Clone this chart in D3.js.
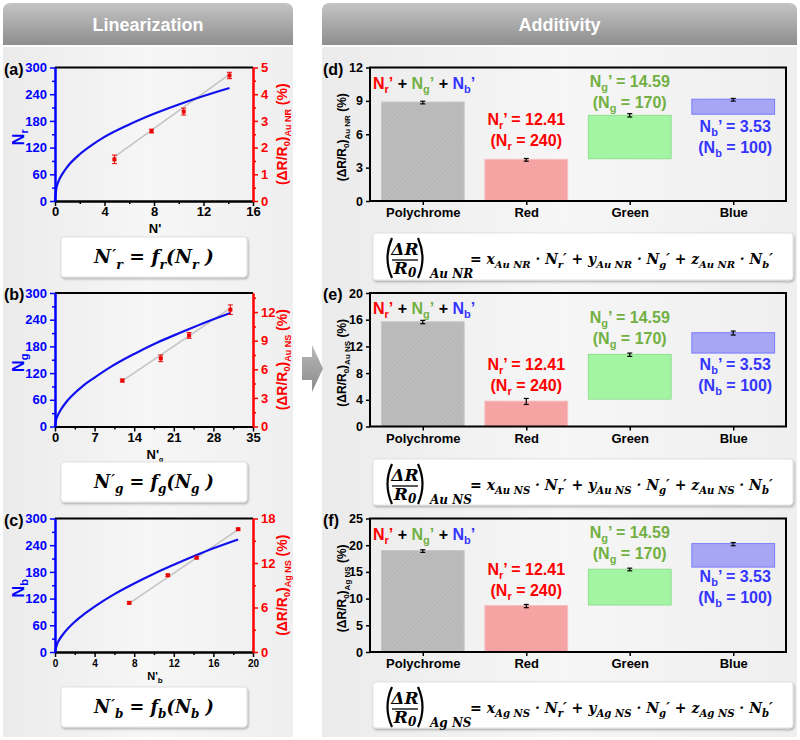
<!DOCTYPE html>
<html><head><meta charset="utf-8">
<script src="https://cdn.jsdelivr.net/npm/d3@7"></script>
<style>body{margin:0;background:#fff}svg{display:block}text,tspan{white-space:pre}</style>
</head><body><svg id="c" width="800" height="740"></svg>
<script>
// ---------------- DATA ----------------
// (a) N_r vs N' curve
const curveA_x = [0,0.1,0.3,0.6,1,2,3,4,6,8,10,12,14.1];
const curveA_y = [0,27,45,61,77,105,126,144,172,196,217,236,254];
const ptsA_x = [4.8,7.8,10.4,14.1];
const ptsA_y = [1.56,2.62,3.35,4.70];
const ptsA_e = [0.16,0.07,0.13,0.12];
const fitA_x = [4.8,14.1];
const fitA_y = [1.65,4.74];
// (b)
const curveB_x = [0,0.2,0.5,1,2,3,5,7,10,14,18,22,26,31];
const curveB_y = [0,15,25,37,55,69,92,110,135,163,188,210,231,255];
const ptsB_x = [11.9,18.7,23.7,31.0];
const ptsB_y = [4.82,7.15,9.55,12.25];
const ptsB_e = [0.15,0.35,0.3,0.5];
const fitB_x = [11.9,31.0];
const fitB_y = [4.78,12.42];
// (c)
const curveC_x = [0,0.2,0.5,1,2,3,4,6,8,10,12,14,16,18.5];
const curveC_y = [0,17,30,45,68,86,102,130,154,176,196,215,233,253];
const ptsC_x = [7.5,11.4,14.3,18.5];
const ptsC_y = [6.63,10.34,12.72,16.55];
const ptsC_e = [0.15,0.15,0.15,0.15];
const fitC_x = [7.5,18.5];
const fitC_y = [6.55,16.5];
// left tick values
const nTicks = [0,60,120,180,240,300];
const xTicksA = [0,4,8,12,16], rTicksA = [0,1,2,3,4,5];
const xTicksB = [0,7,14,21,28,35], rTicksB = [0,3,6,9,12];
const xTicksC = [0,4,8,12,16,20], rTicksC = [0,6,12,18];

// right panels
const categories = ["Polychrome","Red","Green","Blue"];
const barBaseD = [0,0,3.8,7.8],  barTopD = [8.9,3.75,7.7,9.15];
const errMidD  = [8.85,3.7,7.7,9.1], errD = [0.12,0.12,0.15,0.12];
const barBaseE = [0,0,4.1,11.0], barTopE = [15.7,3.8,10.8,14.05];
const errMidE  = [15.65,3.75,10.75,14.0], errE = [0.25,0.45,0.25,0.3];
const barBaseF = [0,0,8.8,15.9], barTopF = [19.0,8.7,15.5,20.3];
const errMidF  = [18.9,8.6,15.45,20.2], errF = [0.25,0.3,0.25,0.3];
const yTicksD = [0,3,6,9,12], yTicksE = [0,4,8,12,16,20], yTicksF = [0,5,10,15,20,25];
const nPrimeR = "12.41", nR = "240", nPrimeG = "14.59", nG = "170", nPrimeB = "3.53", nB = "100";

// ---------------- HELPERS ----------------
const SANS = '"Liberation Sans", Arial, sans-serif';
const SERIF = '"DejaVu Serif", "Liberation Serif", serif';
const svg = d3.select('#c');
const defs = svg.append('defs');

// rich text: one <text> with positioned tspans
function rich(parent, x, y, parts, o) {
  const g = parent.append('g');
  const t = g.append('text').attr('font-family', o.family || SANS).attr('font-size', o.size)
    .attr('font-weight', o.weight || 'bold').attr('font-style', o.style || 'normal').attr('fill', o.fill || '#000');
  let cx = 0;
  for (const p of parts) {
    const ts = t.append('tspan').attr('x', cx).attr('y', p.dy || 0).text(p.t);
    if (p.size) ts.attr('font-size', p.size);
    if (p.fill) ts.attr('fill', p.fill);
    const w = ts.node().getComputedTextLength();
    cx += w + (p.kern || 0);
  }
  const total = cx;
  let off = 0;
  if (o.anchor === 'middle') off = -total / 2;
  else if (o.anchor === 'end') off = -total;
  g.attr('transform', `translate(${x},${y})` + (o.rotate ? ` rotate(${o.rotate})` : '') + ` translate(${off},0)`);
  return { g, total };
}

// gradients / patterns / filters
const hg = defs.append('linearGradient').attr('id','hdr').attr('x1',0).attr('y1',0).attr('x2',0).attr('y2',1);
hg.append('stop').attr('offset','0%').attr('stop-color','#c4c4c4');
hg.append('stop').attr('offset','100%').attr('stop-color','#8e8e8e');
const bg = defs.append('linearGradient').attr('id','body').attr('x1',0).attr('y1',0).attr('x2',1).attr('y2',0);
bg.append('stop').attr('offset','0%').attr('stop-color','#ebebeb');
bg.append('stop').attr('offset','50%').attr('stop-color','#f6f6f6');
bg.append('stop').attr('offset','100%').attr('stop-color','#efefef');
const ag = defs.append('linearGradient').attr('id','arr').attr('x1',0).attr('y1',0).attr('x2',0).attr('y2',1);
ag.append('stop').attr('offset','0%').attr('stop-color','#b8b8b8');
ag.append('stop').attr('offset','100%').attr('stop-color','#8c8c8c');
const pat = defs.append('pattern').attr('id','hatch').attr('patternUnits','userSpaceOnUse')
  .attr('width',3).attr('height',3).attr('patternTransform','rotate(45)');
pat.append('rect').attr('width',3).attr('height',3).attr('fill','#bdbdbd');
pat.append('line').attr('x1',0).attr('y1',0).attr('x2',0).attr('y2',3).attr('stroke','#adadad').attr('stroke-width',1);
const sh = defs.append('filter').attr('id','shadow').attr('x','-5%').attr('y','-20%').attr('width','110%').attr('height','150%');
sh.append('feDropShadow').attr('dx',1).attr('dy',1.5).attr('stdDeviation',1.2).attr('flood-color','#000').attr('flood-opacity',0.3);

// ---------------- BACKGROUND ----------------
function section(x, w, title) {
  svg.append('rect').attr('x',x).attr('y',47).attr('width',w).attr('height',690).attr('fill','url(#body)');
  svg.append('path').attr('d', `M${x},45 L${x},11 Q${x},3 ${x+8},3 L${x+w-8},3 Q${x+w},3 ${x+w},11 L${x+w},45 Z`)
    .attr('fill','url(#hdr)');
  svg.append('text').attr('x', x + w/2).attr('y', 31).attr('text-anchor','middle')
    .attr('font-family', SANS).attr('font-weight','bold').attr('font-size',18).attr('fill','#fff').text(title);
}
section(3, 290, 'Linearization');
section(322, 475, 'Additivity');
svg.append('polygon').attr('points','302,357 312,357 312,345 323,368.5 312,392 312,380 302,380').attr('fill','url(#arr)');

// ---------------- LEFT PANELS ----------------
const L0 = 55, L1 = 253, PH = 133.5;
const TOPS = [67.5, 293, 518.5];
const BLUE = '#0000ff', RED = '#ff0000';

function minorOf(ticks) {
  const m = [];
  for (let i = 0; i < ticks.length - 1; i++) m.push((ticks[i] + ticks[i+1]) / 2);
  return m;
}

function styleAxis(sel, color, fs, family) {
  sel.select('.domain').attr('stroke', color).attr('stroke-width', 2);
  sel.selectAll('.tick line').attr('stroke', color).attr('stroke-width', 1.5);
  sel.selectAll('.tick text').attr('fill', color).attr('font-size', fs)
    .attr('font-family', family || SANS).attr('font-weight','bold');
}

function leftPanel(p) {
  const top = p.top, bot = top + PH;
  const g = svg.append('g');
  const x = d3.scaleLinear().domain([p.xTicks[0], p.xTicks[p.xTicks.length-1]]).range([L0, L1]);
  const y = d3.scaleLinear().domain([0, 300]).range([bot, top]);
  const yr = d3.scaleLinear().domain(p.rDom).range([bot, top]);
  g.append('path').attr('d', d3.line().x((d,i)=>x(p.fitX[i])).y((d,i)=>yr(p.fitY[i]))(p.fitX))
    .attr('fill','none').attr('stroke','#c4c4c4').attr('stroke-width',1.6);
  g.append('path').attr('d', d3.line().curve(d3.curveMonotoneX).x((d,i)=>x(p.cx[i])).y((d,i)=>y(p.cy[i]))(p.cx))
    .attr('fill','none').attr('stroke', '#1010ee').attr('stroke-width',2.2);
  p.px.forEach((v,i) => {
    const cx = x(v), cy = yr(p.py[i]);
    const y1 = yr(p.py[i] + p.pe[i]), y2 = yr(p.py[i] - p.pe[i]);
    g.append('line').attr('x1',cx).attr('x2',cx).attr('y1',y1).attr('y2',y2).attr('stroke','#e00').attr('stroke-width',1);
    [y1,y2].forEach(yy => g.append('line').attr('x1',cx-2.5).attr('x2',cx+2.5).attr('y1',yy).attr('y2',yy).attr('stroke','#e00').attr('stroke-width',1));
    g.append('rect').attr('x',cx-2).attr('y',cy-2).attr('width',4).attr('height',4).attr('fill','#e00');
  });
  g.append('line').attr('x1',L0).attr('x2',L1).attr('y1',top).attr('y2',top).attr('stroke','#000').attr('stroke-width',2);
  const xfs = p.small ? 10 : 13;
  const fmt = d3.format('~g');
  const bm = g.append('g').attr('transform',`translate(0,${bot})`)
    .call(d3.axisBottom(x).tickValues(minorOf(p.xTicks)).tickSize(3).tickSizeOuter(0).tickFormat(''));
  styleAxis(bm, '#000', xfs);
  const bx = g.append('g').attr('transform',`translate(0,${bot})`)
    .call(d3.axisBottom(x).tickValues(p.xTicks).tickSize(5).tickSizeOuter(0).tickPadding(p.small ? 3 : 1).tickFormat(fmt));
  styleAxis(bx, '#000', xfs);
  const lm = g.append('g').attr('transform',`translate(${L0},0)`)
    .call(d3.axisLeft(y).tickValues(minorOf(nTicks)).tickSize(3).tickSizeOuter(0).tickFormat(''));
  styleAxis(lm, BLUE, 13);
  const la = g.append('g').attr('transform',`translate(${L0},0)`)
    .call(d3.axisLeft(y).tickValues(nTicks).tickSize(5).tickSizeOuter(0).tickPadding(3).tickFormat(fmt));
  styleAxis(la, BLUE, 13);
  const rm = g.append('g').attr('transform',`translate(${L1},0)`)
    .call(d3.axisRight(yr).tickValues(p.rMinor).tickSize(3).tickSizeOuter(0).tickFormat(''));
  styleAxis(rm, RED, 13);
  const ra = g.append('g').attr('transform',`translate(${L1},0)`)
    .call(d3.axisRight(yr).tickValues(p.rTicks).tickSize(5).tickSizeOuter(0).tickPadding(3).tickFormat(fmt));
  styleAxis(ra, RED, 13);
  g.append('text').attr('x',4).attr('y',top+7).attr('font-family',SANS).attr('font-weight','bold').attr('font-size',16).text(p.label);
  rich(g, 24, top + PH/2 + 3, [{t:'N'},{t:p.sub, size:11, dy:4}], {size:16, fill:BLUE, rotate:-90, anchor:'middle'});
  rich(g, 287, top + PH/2, [{t:'(ΔR/R'},{t:'0', size:9, dy:3},{t:')'},{t:p.rSub, size:9, dy:4},{t:' (%)'}],
    {size:14, fill:RED, rotate:-90, anchor:'middle'});
  if (p.small) {
    rich(g, 155, bot + 28, [{t:"N'"},{t:p.xSub, size:8, dy:3}], {size:11, anchor:'middle'});
  } else {
    rich(g, 155, bot + 32, [{t:"N'"},{t:p.xSub, size:7, dy:3}], {size:13, anchor:'middle'});
  }
  const by = p.boxY;
  g.append('rect').attr('x',61).attr('y',by).attr('width',186).attr('height',40).attr('rx',3)
    .attr('fill','#fff').attr('stroke','#e2e2e2').attr('filter','url(#shadow)');
  const build = (fs) => rich(g, 0, 0, [
      {t:'N', kern:fs*0.06},{t:'′', size:fs*0.8, dy:-fs*0.15},{t:p.sub, size:fs*0.68, dy:fs*0.3},
      {t:' = '},{t:'f'},{t:p.sub, size:fs*0.68, dy:fs*0.3},{t:'('},{t:'N'},{t:p.sub, size:fs*0.68, dy:fs*0.3},{t:' )'}
    ], {size:fs, family:SERIF, style:'italic', anchor:'middle'});
  const test = build(22); const w = test.total; test.g.remove();
  const fs = 22 * 120 / w;
  const f = build(fs);
  f.g.attr('transform', `translate(${154},${by+26}) translate(${-f.total/2},0)`);
}

leftPanel({label:'(a)', top:TOPS[0], cx:curveA_x, cy:curveA_y, px:ptsA_x, py:ptsA_y, pe:ptsA_e, fitX:fitA_x, fitY:fitA_y,
  xTicks:xTicksA, rDom:[0,5], rTicks:rTicksA, rMinor:[0.5,1.5,2.5,3.5,4.5], sub:'r', rSub:'Au NR', xSub:'', boxY:237});
leftPanel({label:'(b)', top:TOPS[1], cx:curveB_x, cy:curveB_y, px:ptsB_x, py:ptsB_y, pe:ptsB_e, fitX:fitB_x, fitY:fitB_y,
  xTicks:xTicksB, rDom:[0,14], rTicks:rTicksB, rMinor:[1.5,4.5,7.5,10.5,13.5], sub:'g', rSub:'Au NS', xSub:'g', boxY:462});
leftPanel({label:'(c)', top:TOPS[2], cx:curveC_x, cy:curveC_y, px:ptsC_x, py:ptsC_y, pe:ptsC_e, fitX:fitC_x, fitY:fitC_y,
  xTicks:xTicksC, rDom:[0,18], rTicks:rTicksC, rMinor:[3,9,15], sub:'b', rSub:'Ag NS', xSub:'b', boxY:687, small:true});

// ---------------- RIGHT PANELS ----------------
const R0 = 370, R1 = 786;
const fills = ['url(#hatch)', '#f5a3a3', '#a3f5a3', '#a6a6f5'];
const strokes = ['#c9c9c9', '#f7c0c0', '#8fe08f', '#7c7cff'];
const GREEN = '#72b043', BLUEt = '#3535ff';

function rightPanel(p) {
  const top = p.top, bot = top + PH;
  const g = svg.append('g');
  const x = d3.scalePoint().domain(categories).range([R0, R1]).padding(0.51);
  const bw = x.step() * 0.8;
  const y = d3.scaleLinear().domain([p.ticks[0], p.ticks[p.ticks.length-1]]).range([bot, top]);
  categories.forEach((c, i) => {
    g.append('rect').attr('x', x(c) - bw/2).attr('y', y(p.top_[i])).attr('width', bw)
      .attr('height', y(p.base[i]) - y(p.top_[i])).attr('fill', fills[i]).attr('stroke', strokes[i]).attr('stroke-width', 1);
    const cx = x(c), y1 = y(p.mid[i] + p.err[i]), y2 = y(p.mid[i] - p.err[i]);
    g.append('line').attr('x1',cx).attr('x2',cx).attr('y1',y1).attr('y2',y2).attr('stroke','#000').attr('stroke-width',1.2);
    [y1,y2].forEach(yy => g.append('line').attr('x1',cx-2.5).attr('x2',cx+2.5).attr('y1',yy).attr('y2',yy).attr('stroke','#000').attr('stroke-width',1.2));
  });
  g.append('rect').attr('x',R0).attr('y',top).attr('width',R1-R0).attr('height',PH).attr('fill','none').attr('stroke','#000').attr('stroke-width',2);
  const la = g.append('g').attr('transform',`translate(${R0},0)`)
    .call(d3.axisLeft(y).tickValues(p.ticks).tickSize(4).tickSizeOuter(0).tickPadding(3));
  styleAxis(la, '#000', 12.5);
  const ba = g.append('g').attr('transform',`translate(0,${bot})`)
    .call(d3.axisBottom(x).tickSize(4).tickSizeOuter(0).tickPadding(3));
  styleAxis(ba, '#000', 13);
  ba.select('.domain').remove(); la.select('.domain').remove();
  g.append('text').attr('x',323).attr('y',top+7).attr('font-family',SANS).attr('font-weight','bold').attr('font-size',16).text(p.label);
  rich(g, 346, top + PH/2 + 3, [{t:'(ΔR/R'},{t:'0', size:8, dy:3},{t:')'},{t:p.sub, size:8, dy:4},{t:' (%)'}],
    {size:12, rotate:-90, anchor:'middle'});
  const S = 16, s = 11, sd = 4;
  rich(g, 373, top + 21, [{t:'N',fill:RED},{t:'r',size:s,dy:sd,fill:RED},{t:'’',fill:RED},{t:' + '},
    {t:'N',fill:GREEN},{t:'g',size:s,dy:sd,fill:GREEN},{t:'’',fill:GREEN},{t:' + '},
    {t:'N',fill:BLUEt},{t:'b',size:s,dy:sd,fill:BLUEt},{t:'’',fill:BLUEt}], {size:S});
  const ann = (cx, yb, c, col, np, n) => {
    rich(g, cx, yb, [{t:'N'},{t:c,size:s,dy:sd},{t:'’ = ' + np}], {size:S, fill:col, anchor:'middle'});
    rich(g, cx, yb + 21, [{t:'(N'},{t:c,size:s,dy:sd},{t:' = ' + n + ')'}], {size:S, fill:col, anchor:'middle'});
  };
  ann(x('Red'), top + p.ry, 'r', RED, nPrimeR, nR);
  ann(x('Green'), top + p.gy, 'g', GREEN, nPrimeG, nG);
  ann(x('Blue') + 2, top + p.by, 'b', BLUEt, nPrimeB, nB);
  const bx = 373, bwid = 420, by0 = p.boxY, bh = p.boxH;
  g.append('rect').attr('x',bx).attr('y',by0).attr('width',bwid).attr('height',bh).attr('rx',3)
    .attr('fill','#fff').attr('stroke','#e2e2e2').attr('filter','url(#shadow)');
  const fy = by0;
  const par = (px, dir) => g.append('path')
    .attr('d', `M${px + 4*dir},${fy+5} Q${px - 5*dir},${fy+25} ${px + 4*dir},${fy+45}`)
    .attr('fill','none').attr('stroke','#000').attr('stroke-width',2.2);
  par(bx + 15, 1); par(bx + 49, -1);
  const fc = bx + 32;
  rich(g, fc, fy + 22, [{t:'ΔR'}], {size:17, family:SERIF, style:'italic', anchor:'middle'});
  g.append('line').attr('x1',fc-13).attr('x2',fc+13).attr('y1',fy+27).attr('y2',fy+27).attr('stroke','#000').attr('stroke-width',1.3);
  rich(g, fc, fy + 41, [{t:'R'},{t:'0', size:12, dy:3}], {size:17, family:SERIF, style:'italic', anchor:'middle'});
  rich(g, bx + 57, fy + 45, [{t:p.sub}], {size:12, family:SERIF, style:'italic'});
  const eq = (fs) => {
    const ss = fs * 0.72, dd = fs * 0.3;
    return rich(g, 0, 0, [{t:'= '},{t:'x'},{t:p.sub, size:ss, dy:dd},{t:' · '},{t:'N'},{t:'r', size:ss, dy:dd},{t:'′'},
      {t:' + '},{t:'y'},{t:p.sub, size:ss, dy:dd},{t:' · '},{t:'N'},{t:'g', size:ss, dy:dd},{t:'′'},
      {t:' + '},{t:'z'},{t:p.sub, size:ss, dy:dd},{t:' · '},{t:'N'},{t:'b', size:ss, dy:dd},{t:'′'}],
      {size:fs, family:SERIF, style:'italic'});
  };
  const t = eq(16); const w = t.total; t.g.remove();
  const e = eq(16 * 303 / w);
  e.g.attr('transform', `translate(${bx + 97},${fy + 31})`);
}

rightPanel({label:'(d)', top:TOPS[0], base:barBaseD, top_:barTopD, mid:errMidD, err:errD, ticks:yTicksD, sub:'Au NR',
  ry:57, gy:19, by:64, boxY:233, boxH:47});
rightPanel({label:'(e)', top:TOPS[1], base:barBaseE, top_:barTopE, mid:errMidE, err:errE, ticks:yTicksE, sub:'Au NS',
  ry:77, gy:30, by:77, boxY:459, boxH:46});
rightPanel({label:'(f)', top:TOPS[2], base:barBaseF, top_:barTopF, mid:errMidF, err:errF, ticks:yTicksF, sub:'Ag NS',
  ry:56, gy:19, by:63, boxY:682, boxH:46});
</script>
</body></html>
